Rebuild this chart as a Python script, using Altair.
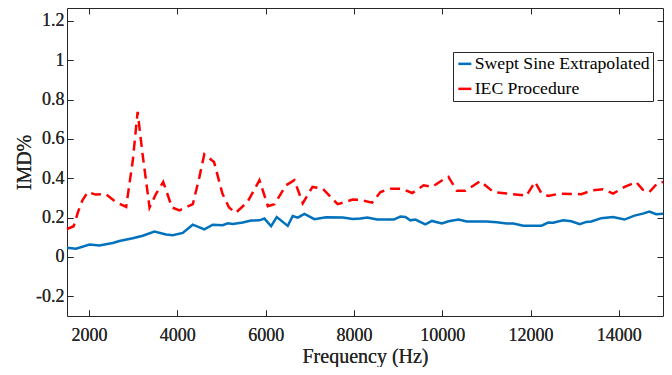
import altair as alt
import pandas as pd

# ---- data ----
sweep_freq = [1500, 1706, 2008, 2234, 2536, 2687, 2989, 3216, 3480, 3744, 3895, 4122,
              4348, 4612, 4801, 5028, 5141, 5254, 5481, 5669, 5858, 5972, 6123, 6251,
              6500, 6613, 6726, 6877, 7104, 7368, 7746, 7972, 8150, 8300, 8526, 8902,
              9052, 9165, 9278, 9391, 9616, 9767, 9992, 10143, 10368, 10556, 11008,
              11233, 11459, 11609, 11835, 12248, 12399, 12512, 12737, 12925, 13113,
              13263, 13376, 13602, 13865, 14128, 14354, 14542, 14692, 14843, 15000]
sweep_imd = [0.047, 0.042, 0.063, 0.058, 0.071, 0.081, 0.095, 0.108, 0.129, 0.114, 0.110, 0.122,
             0.164, 0.140, 0.164, 0.161, 0.171, 0.168, 0.175, 0.185, 0.186, 0.195, 0.156, 0.203,
             0.158, 0.208, 0.200, 0.219, 0.192, 0.202, 0.200, 0.193, 0.195, 0.200, 0.190, 0.190,
             0.205, 0.203, 0.186, 0.190, 0.166, 0.183, 0.170, 0.181, 0.190, 0.180, 0.180,
             0.176, 0.170, 0.170, 0.159, 0.159, 0.175, 0.174, 0.186, 0.181, 0.166,
             0.178, 0.180, 0.197, 0.203, 0.190, 0.210, 0.220, 0.231, 0.217, 0.220]

iec_freq = [1500, 1650, 1750, 1850, 1970, 2150, 2380, 2600, 2840, 2990, 3100, 3210, 3370,
            3520, 3680, 3880, 4050, 4350, 4500, 4610, 4830, 5020, 5170, 5320, 5590, 5860,
            6050, 6200, 6460, 6650, 6840, 7060, 7290, 7630, 7820, 7970, 8150, 8410, 8600,
            8830, 9090, 9320, 9580, 9770, 10000, 10140, 10330, 10520, 10860, 11160, 11460,
            11830, 11900, 12100, 12250, 12400, 12660, 13150, 13410, 13640, 13870, 14130,
            14390, 14540, 14690, 14880, 15000]
iec_imd = [0.142, 0.156, 0.229, 0.288, 0.330, 0.317, 0.319, 0.280, 0.254, 0.490, 0.737, 0.525, 0.251,
           0.322, 0.381, 0.251, 0.237, 0.268, 0.407, 0.522, 0.483, 0.322, 0.251, 0.224, 0.280, 0.390,
           0.258, 0.268, 0.364, 0.390, 0.273, 0.356, 0.347, 0.268, 0.280, 0.292, 0.290, 0.276, 0.330,
           0.347, 0.346, 0.325, 0.364, 0.356, 0.390, 0.407, 0.336, 0.336, 0.385, 0.330, 0.322,
           0.314, 0.310, 0.381, 0.322, 0.310, 0.322, 0.319, 0.339, 0.344, 0.322, 0.356,
           0.381, 0.342, 0.330, 0.376, 0.381]

series_names = ["Swept Sine Extrapolated", "IEC Procedure"]
series_colors = ["#0072BD", "#FF0000"]
x_ticks = [2000, 4000, 6000, 8000, 10000, 12000, 14000]
y_ticks = [-0.2, 0, 0.2, 0.4, 0.6, 0.8, 1.0, 1.2]

df = pd.concat([
    pd.DataFrame({"freq": sweep_freq, "imd": sweep_imd, "series": series_names[0]}),
    pd.DataFrame({"freq": iec_freq, "imd": iec_imd, "series": series_names[1]}),
])

FONT = "Liberation Serif"
AX = "#262626"
TICK = 6
W, H = 596, 308

x_scale = alt.Scale(domain=[1500, 15000], nice=False, zero=False)
y_scale = alt.Scale(domain=[-0.3, 1.265], nice=False, zero=False)

x_main = alt.X("freq:Q", scale=x_scale,
               axis=alt.Axis(orient="bottom", values=x_ticks, offset=-TICK, tickSize=TICK,
                             domain=False, labelPadding=10, labelFontSize=18, labelFont=FONT,
                             labelColor=AX, format="d",
                             title="Frequency (Hz)", titleFont=FONT, titleFontSize=20,
                             titleColor=AX, titleFontWeight="normal",
                             titleX=W / 2, titleY=52, titleAlign="center",
                             titleBaseline="alphabetic"))
y_main = alt.Y("imd:Q", scale=y_scale,
               axis=alt.Axis(orient="left", values=y_ticks, offset=-TICK, tickSize=TICK,
                             domain=False, labelPadding=3, labelFontSize=18, labelFont=FONT,
                             labelColor=AX,
                             labelExpr="replace(format(datum.value, '.1~f'), '\u2212', '-')",
                             title="IMD%", titleFont=FONT, titleFontSize=20, titleColor=AX,
                             titlePadding=1, titleFontWeight="normal"))
color = alt.Color("series:N",
                  scale=alt.Scale(domain=series_names, range=series_colors),
                  legend=alt.Legend(orient="none", legendX=386, legendY=44, title=None,
                                    labelFont=FONT, labelFontSize=17.7, labelColor="black",
                                    labelLimit=400,
                                    symbolType="stroke", symbolSize=169,
                                    symbolStrokeWidth=2.5, strokeColor=AX,
                                    fillColor="white", padding=3, rowPadding=6,
                                    labelOffset=1))

base = alt.Chart(df).encode(x=x_main, y=y_main, color=color)
sweep_line = base.transform_filter(
    alt.datum.series == series_names[0]
).mark_line(strokeWidth=2.5)
iec_line = base.transform_filter(
    alt.datum.series == series_names[1]
).mark_line(strokeWidth=2.5, strokeDash=[10, 6])

frame_ticks = alt.Chart(df).mark_line(opacity=0).encode(
    x=alt.X("freq:Q", scale=x_scale,
            axis=alt.Axis(orient="top", values=x_ticks, offset=-TICK, tickSize=TICK,
                          domain=False, labels=False, title=None)),
    y=alt.Y("imd:Q", scale=y_scale,
            axis=alt.Axis(orient="right", values=y_ticks, offset=-TICK, tickSize=TICK,
                          domain=False, labels=False, title=None)),
    detail="series:N",
)

chart = alt.layer(sweep_line, iec_line, frame_ticks).resolve_axis(
    x="independent", y="independent"
).properties(
    width=W, height=H,
    padding={"left": 59, "top": 0, "right": 1, "bottom": 51},
    autosize=alt.AutoSizeParams(type="none"),
).configure_view(
    stroke=AX, strokeWidth=1
).configure_axis(
    labelFont=FONT, titleFont=FONT, labelColor=AX, titleColor=AX,
    tickColor=AX, tickWidth=1, grid=False
)

chart.save("out.html", embed_options={"renderer": "svg", "actions": False})
